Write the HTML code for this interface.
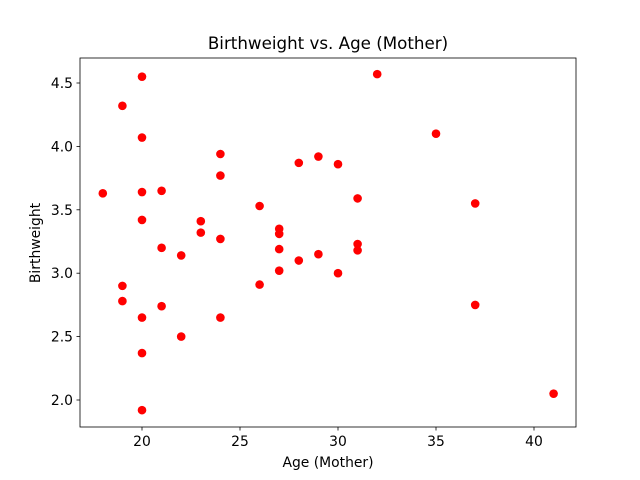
<!DOCTYPE html>
<html><head><meta charset="utf-8"><style>
body{margin:0;background:#fff;}
svg{display:block;font-family:"DejaVu Sans","Liberation Sans",sans-serif;}
</style></head><body>
<svg id="chart" width="640" height="480">
<rect x="0" y="0" width="640" height="480" fill="#fff"/>
<text x="328" y="49" font-size="16.7" text-anchor="middle">Birthweight vs. Age (Mother)</text>
<g id="ticks"></g>
<g id="points"></g>
<rect x="80" y="58" width="496" height="369" fill="none" stroke="#000" stroke-width="0.8"/>
<text x="328" y="467" font-size="13.9" text-anchor="middle">Age (Mother)</text>
<text x="0" y="0" font-size="13.9" text-anchor="middle" transform="translate(40,243) rotate(-90)">Birthweight</text>
</svg>
<script>
const ages=[18,19,19,19,20,20,20,20,20,20,20,21,21,21,22,22,23,23,24,24,24,24,26,26,27,27,27,27,28,28,29,29,30,30,31,31,31,32,35,37,37,41];
const weights=[3.63,4.32,2.90,2.78,4.55,4.07,3.64,3.42,2.65,2.37,1.92,3.65,3.20,2.74,3.14,2.50,3.41,3.32,3.94,3.77,3.27,2.65,3.53,2.91,3.35,3.31,3.19,3.02,3.87,3.10,3.92,3.15,3.86,3.00,3.59,3.23,3.18,4.57,4.10,3.55,2.75,2.05];
const xTicks=[20,25,30,35,40];
const yTicks=[2.0,2.5,3.0,3.5,4.0,4.5];
const xTickLabels=["20","25","30","35","40"];
const yTickLabels=["2.0","2.5","3.0","3.5","4.0","4.5"];
function xs(v){return 142+(v-20)*19.6;}
function ys(v){return 400-(v-2)*126.8;}
const NS="http://www.w3.org/2000/svg";
const tg=document.getElementById('ticks');
xTicks.forEach((t,i)=>{
  const l=document.createElementNS(NS,'line');
  l.setAttribute('x1',xs(t));l.setAttribute('x2',xs(t));l.setAttribute('y1',427);l.setAttribute('y2',430.5);l.setAttribute('stroke','#000');l.setAttribute('stroke-width','0.8');
  
  
  tg.appendChild(l);
  const tx=document.createElementNS(NS,'text');
  tx.setAttribute('x',xs(t));tx.setAttribute('y',446);tx.setAttribute('font-size','13.9');tx.setAttribute('text-anchor','middle');tx.textContent=xTickLabels[i];
  
  
  tg.appendChild(tx);
});
yTicks.forEach((t,i)=>{
  const l=document.createElementNS(NS,'line');
  l.setAttribute('x1',76.5);l.setAttribute('x2',80);l.setAttribute('y1',ys(t));l.setAttribute('y2',ys(t));l.setAttribute('stroke','#000');l.setAttribute('stroke-width','0.8');
  
  
  tg.appendChild(l);
  const tx=document.createElementNS(NS,'text');
  tx.setAttribute('x',73);tx.setAttribute('y',ys(t)+5);tx.setAttribute('font-size','13.9');tx.setAttribute('text-anchor','end');tx.textContent=yTickLabels[i];
  
  
  tg.appendChild(tx);
});
const pg=document.getElementById('points');
ages.forEach((a,i)=>{
  const c=document.createElementNS(NS,'circle');
  c.setAttribute('cx',xs(a));c.setAttribute('cy',ys(weights[i]));c.setAttribute('r',4.3);c.setAttribute('fill','#ff0000');
  
  
  pg.appendChild(c);
});
</script>
</body></html>
